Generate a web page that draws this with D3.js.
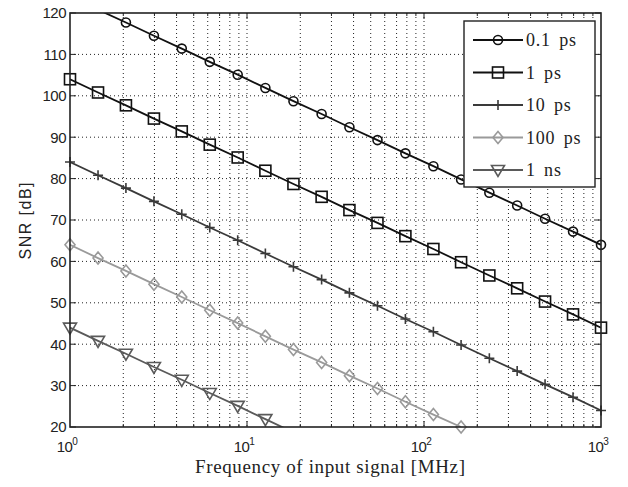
<!DOCTYPE html>
<html>
<head>
<meta charset="utf-8">
<script src="https://cdn.jsdelivr.net/npm/d3@7"></script>
<style>
  body { margin: 0; background: #fff; }
  svg { display: block; }
</style>
</head>
<body>
<div id="chart"></div>
<script>
// frequency points [MHz] (log spaced)
const freq = [1, 1.44, 2.07, 2.98, 4.28, 6.16, 8.86, 12.7, 18.3, 26.4,
              37.9, 54.6, 78.5, 113, 162, 234, 336, 483, 695, 1000];

const snr01ps = [124, 120.8, 117.7, 114.5, 111.4, 108.2, 105.1, 101.9, 98.7, 95.6,
                 92.4, 89.3, 86.1, 83, 79.8, 76.6, 73.5, 70.3, 67.2, 64];
const snr1ps = [104, 100.8, 97.7, 94.5, 91.4, 88.2, 85.1, 81.9, 78.7, 75.6,
                72.4, 69.3, 66.1, 63, 59.8, 56.6, 53.5, 50.3, 47.2, 44];
const snr10ps = [84, 80.8, 77.7, 74.5, 71.4, 68.2, 65.1, 61.9, 58.7, 55.6,
                 52.4, 49.3, 46.1, 43, 39.8, 36.6, 33.5, 30.3, 27.2, 24];
const snr100ps = [64, 60.8, 57.7, 54.5, 51.4, 48.2, 45.1, 41.9, 38.7, 35.6,
                  32.4, 29.3, 26.1, 23, 20];
const snr1ns = [44, 40.8, 37.7, 34.5, 31.4, 28.2, 25.1, 21.9, 18.7];

const seriesNames = ["0.1 ps", "1 ps", "10 ps", "100 ps", "1 ns"];
const seriesValues = [snr01ps, snr1ps, snr10ps, snr100ps, snr1ns];
const seriesColors = ["#111", "#111", "#3a3a3a", "#9a9a9a", "#5a5a5a"];
const seriesMarkers = ["circle", "square", "plus", "diamond", "triangle"];

const yTicks = [20, 30, 40, 50, 60, 70, 80, 90, 100, 110, 120];
const xMajor = [1, 10, 100, 1000];
const xExp = ["0", "1", "2", "3"];

const W = 628, H = 487;
const margin = { top: 13, right: 27, bottom: 60, left: 70 };
const width = W - margin.left - margin.right;
const height = H - margin.top - margin.bottom;

const svg = d3.select("#chart").append("svg")
    .attr("width", W)
    .attr("height", H);

const g = svg.append("g")
    .attr("transform", "translate(" + margin.left + "," + margin.top + ")");

const x = d3.scaleLog().domain([1, 1000]).range([0, width]);
const y = d3.scaleLinear().domain([20, 120]).range([height, 0]);

// minor positions 2..9 x 10^k
const xMinor = [];
[1, 10, 100].forEach(d => { for (let k = 2; k <= 9; k++) xMinor.push(d * k); });

svg.append("defs").append("clipPath").attr("id", "plotclip")
    .append("rect").attr("width", width).attr("height", height);

/* grid */
const grid = g.append("g").attr("stroke", "#222").attr("stroke-width", 1)
    .attr("stroke-dasharray", "1,3");
grid.selectAll(".gx").data(xMinor.concat([10, 100])).enter().append("line")
    .attr("x1", d => x(d)).attr("x2", d => x(d))
    .attr("y1", 0).attr("y2", height);
grid.selectAll(".gy").data(yTicks.slice(1, -1)).enter().append("line")
    .attr("x1", 0).attr("x2", width)
    .attr("y1", d => y(d)).attr("y2", d => y(d));

/* ticks (inside, on all four sides) */
const ticks = g.append("g").attr("stroke", "#222").attr("stroke-width", 1);
xMinor.forEach(d => {
    ticks.append("line").attr("x1", x(d)).attr("x2", x(d)).attr("y1", height).attr("y2", height - 3);
    ticks.append("line").attr("x1", x(d)).attr("x2", x(d)).attr("y1", 0).attr("y2", 3);
});
[10, 100].forEach(d => {
    ticks.append("line").attr("x1", x(d)).attr("x2", x(d)).attr("y1", height).attr("y2", height - 6);
    ticks.append("line").attr("x1", x(d)).attr("x2", x(d)).attr("y1", 0).attr("y2", 6);
});
yTicks.forEach(d => {
    ticks.append("line").attr("x1", 0).attr("x2", 6).attr("y1", y(d)).attr("y2", y(d));
    ticks.append("line").attr("x1", width).attr("x2", width - 6).attr("y1", y(d)).attr("y2", y(d));
});

/* tick labels */
g.selectAll(".ylab").data(yTicks).enter().append("text")
    .attr("x", -4).attr("y", d => y(d)).attr("dy", "0.36em")
    .attr("text-anchor", "end")
    .attr("font-family", "'Liberation Sans', Arial, sans-serif")
    .attr("font-size", 15).attr("letter-spacing", -0.5).attr("fill", "#222")
    .text(d => d);

const xl = g.selectAll(".xlab").data(xMajor).enter().append("text")
    .attr("x", d => x(d) - 3).attr("y", height + 25)
    .attr("text-anchor", "middle")
    .attr("font-family", "'Liberation Sans', Arial, sans-serif")
    .attr("font-size", 15).attr("letter-spacing", -0.5).attr("fill", "#222");
xl.append("tspan").text("10");
xl.append("tspan").attr("dy", -7).attr("font-size", 10).text((d, i) => xExp[i]);

/* axis labels */
svg.append("text")
    .attr("x", 330).attr("y", 473)
    .attr("text-anchor", "middle")
    .attr("font-family", "'Liberation Serif', 'DejaVu Serif', serif")
    .attr("font-size", 19).attr("fill", "#222")
    .attr("textLength", 270).attr("lengthAdjust", "spacing")
    .text("Frequency of input signal [MHz]");

svg.append("text")
    .attr("transform", "translate(31,221) rotate(-90)")
    .attr("text-anchor", "middle")
    .attr("font-family", "'Liberation Sans', Arial, sans-serif")
    .attr("font-size", 16).attr("fill", "#222")
    .attr("textLength", 77).attr("lengthAdjust", "spacing")
    .text("SNR [dB]");

/* marker drawing */
function drawMarker(sel, type, color) {
    if (type === "circle") {
        sel.append("circle").attr("r", 4.5).attr("fill", "none")
            .attr("stroke", color).attr("stroke-width", 1.6);
    } else if (type === "square") {
        sel.append("rect").attr("x", -5.5).attr("y", -5.5).attr("width", 11).attr("height", 11)
            .attr("fill", "none").attr("stroke", color).attr("stroke-width", 1.6);
    } else if (type === "plus") {
        sel.append("path").attr("d", "M-5,0H5M0,-5V5")
            .attr("stroke", color).attr("stroke-width", 1.6);
    } else if (type === "diamond") {
        sel.append("path").attr("d", "M0,-6L5,0L0,6L-5,0Z")
            .attr("fill", "none").attr("stroke", color).attr("stroke-width", 1.6);
    } else if (type === "triangle") {
        sel.append("path").attr("d", "M-6.5,-4.5L6.5,-4.5L0,6.5Z")
            .attr("fill", "none").attr("stroke", color).attr("stroke-width", 1.6);
    }
}

/* lines */
const line = d3.line().x(d => x(d[0])).y(d => y(d[1]));
const plot = g.append("g").attr("clip-path", "url(#plotclip)");

seriesValues.forEach((vals, i) => {
    const pts = vals.map((v, j) => [freq[j], v]);
    plot.append("path").datum(pts)
        .attr("fill", "none")
        .attr("stroke", seriesColors[i])
        .attr("stroke-width", 1.8)
        .attr("d", line);
    pts.filter(p => p[1] >= 19.5 && p[1] <= 120.5).forEach(p => {
        const m = g.append("g").attr("transform", "translate(" + x(p[0]) + "," + y(p[1]) + ")");
        drawMarker(m, seriesMarkers[i], seriesColors[i]);
    });
});

/* box */
g.append("rect").attr("width", width).attr("height", height)
    .attr("fill", "none").attr("stroke", "#222").attr("stroke-width", 1.6);

/* legend */
const leg = svg.append("g").attr("transform", "translate(464,21)");
leg.append("rect").attr("width", 131).attr("height", 166)
    .attr("fill", "#fff").attr("stroke", "#222").attr("stroke-width", 1.4);
seriesNames.forEach((name, i) => {
    const ly = 19 + i * 32.5;
    leg.append("line").attr("x1", 9).attr("x2", 59).attr("y1", ly).attr("y2", ly)
        .attr("stroke", seriesColors[i]).attr("stroke-width", 1.8);
    const m = leg.append("g").attr("transform", "translate(34," + ly + ")");
    drawMarker(m, seriesMarkers[i], seriesColors[i]);
    leg.append("text").attr("x", 62).attr("y", ly).attr("dy", "0.35em")
        .attr("font-family", "'Liberation Serif', 'DejaVu Serif', serif")
        .attr("font-size", 18).attr("letter-spacing", 0.8).attr("word-spacing", 3)
        .attr("fill", "#222")
        .text(name);
});
</script>
</body>
</html>
